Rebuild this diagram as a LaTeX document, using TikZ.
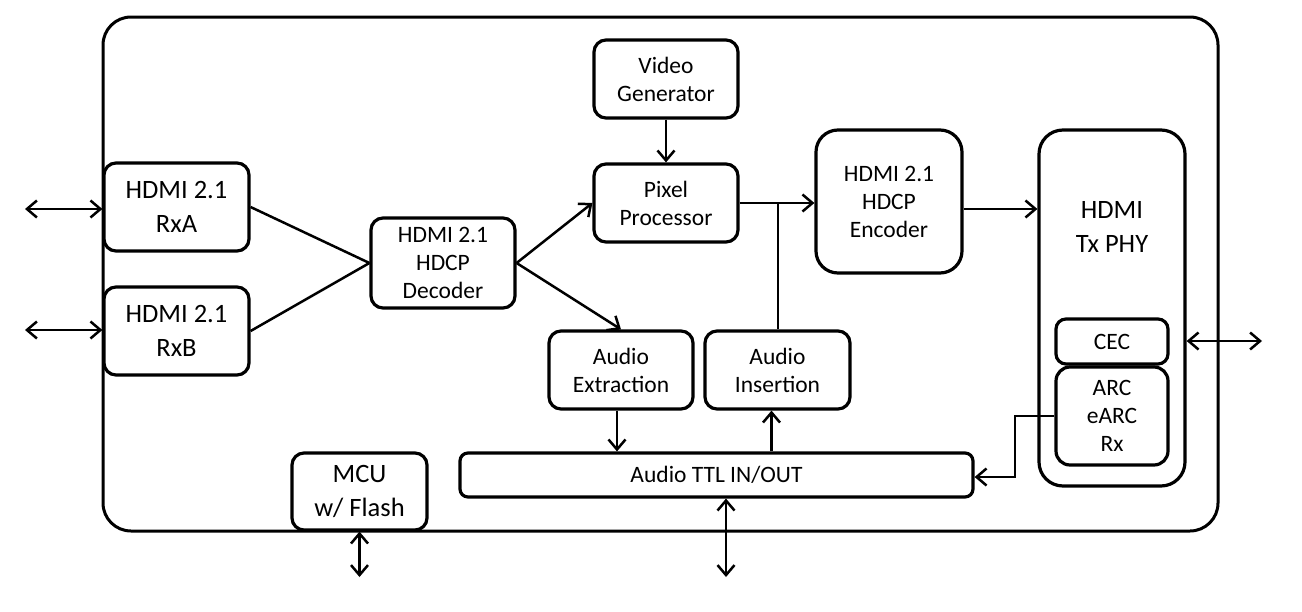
\documentclass[tikz,border=0pt]{standalone}
\usepackage{fontspec}
\setmainfont{Carlito}
\usetikzlibrary{arrows.meta}
\begin{document}
\begin{tikzpicture}[x=1pt,y=-1pt,
  blk/.style={draw, line width=3.2pt, rounded corners=12pt, align=center, inner sep=0pt, fill=white},
  big/.style={font=\fontsize{26.5}{34}\selectfont},
  med/.style={font=\fontsize{23.5}{28}\selectfont},
  sz/.style 2 args={minimum width=#1pt, minimum height=#2pt},
  wire/.style={line width=2.5pt},
  arr/.style={wire, -{Straight Barb[length=10pt,width=17pt]}},
  dbl/.style={wire, {Straight Barb[length=10pt,width=17pt]}-{Straight Barb[length=10pt,width=17pt]}}]
\useasboundingbox (0,0) rectangle (1302,611);
% outer chip
\node[draw, line width=3pt, rounded corners=28pt, sz={1115}{514}] (chip) at (660.5,274) {};
% blocks
\node[blk, big, sz={145}{88}] (RxA) at (176.5,207) {HDMI 2.1\\RxA};
\node[blk, big, sz={145}{88}] (RxB) at (176.5,331) {HDMI 2.1\\RxB};
\node[blk, med, sz={144}{90}] (Dec) at (443,263) {HDMI 2.1\\HDCP\\Decoder};
\node[blk, med, sz={144}{78}] (Vid) at (666,79) {Video\\Generator};
\node[blk, med, sz={144}{78}] (Pix) at (666,203) {Pixel\\Processor};
\node[blk, med, sz={146}{143}, rounded corners=22pt] (Enc) at (889,201.5) {HDMI 2.1\\HDCP\\Encoder};
\node[blk, sz={146}{356}, rounded corners=24pt] (PHY) at (1112,308) {};
\node[big, align=center, inner sep=0pt] (PHYt) at (1112,227) {HDMI\\Tx PHY};
\node[blk, med, sz={112}{45}, rounded corners=10pt] (CEC) at (1112,341.5) {CEC};
\node[blk, med, sz={112}{98}, rounded corners=14pt] (ARC) at (1112,416) {ARC\\eARC\\Rx};
\node[blk, med, sz={144}{78}] (AEx) at (621,370) {Audio\\Extraction};
\node[blk, med, sz={145}{78}] (AIn) at (777.5,370) {Audio\\Insertion};
\node[blk, med, sz={513}{44}, rounded corners=8pt] (TTL) at (716.5,475) {Audio TTL IN/OUT};
\node[blk, big, sz={135}{77}] (MCU) at (359.5,491.5) {MCU\\w/ Flash};
% free ends
\coordinate (la) at (25,209);
\coordinate (lb) at (25,330);
\coordinate (r) at (1262,341);
\coordinate (b1) at (359.5,577);
\coordinate (b2) at (726,577);
\coordinate (j) at (778,203);
\coordinate (k) at (1015,445);
% connectors
\draw[dbl] (la) -- (la -| RxA.west);
\draw[dbl] (lb) -- (lb -| RxB.west);
\draw[wire] (RxA.east) -- (Dec.west);
\draw[wire] (RxB.east) -- (Dec.west);
\draw[arr] (Dec.east) -- (Pix.west);
\draw[arr] (Dec.east) -- (AEx.north);
\draw[arr] (Vid.south) -- (Pix.north);
\draw[arr] (Pix.east) -- (Pix.east -| Enc.west);
\draw[wire] (j) -- (j |- AIn.north);
\draw[arr] ([yshift=-7.5pt]Enc.east) -- ([yshift=-7.5pt]Enc.east -| PHY.west);
\draw[dbl] (r -| PHY.east) -- (r);
\draw[arr] (ARC.west) -| (k) |- ([yshift=-2pt]TTL.east);
\draw[arr] ([xshift=-4pt]AEx.south) -- ([xshift=-4pt]AEx.south |- TTL.north);
\draw[arr] ([xshift=-6pt]AIn.south |- TTL.north) -- ([xshift=-6pt]AIn.south);
\draw[dbl] (b2 |- TTL.south) -- (b2);
\draw[dbl] (MCU.south) -- (b1);
\end{tikzpicture}
\end{document}
